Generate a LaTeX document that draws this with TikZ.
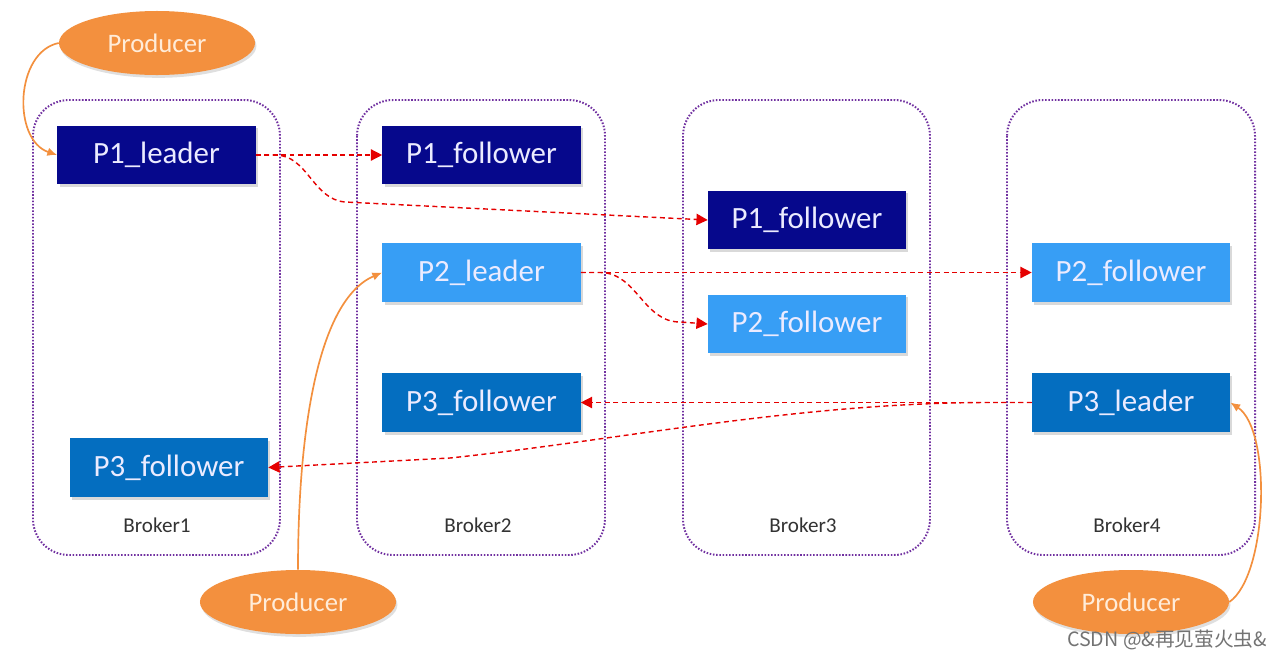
\documentclass[tikz,border=0pt]{standalone}
\usepackage{fontspec}
\setmainfont{Carlito}
\newfontfamily\cjkwm{Noto Sans CJK SC}
\usepackage{tikz}
\usetikzlibrary{arrows.meta,shapes.geometric,shadows}

\definecolor{navybox}{RGB}{6,8,140}
\definecolor{lightbox}{RGB}{55,158,245}
\definecolor{midbox}{RGB}{4,110,192}
\definecolor{prodorange}{RGB}{243,144,62}
\definecolor{brokerline}{RGB}{112,48,160}

\tikzset{
  part/.style={draw=none,minimum width=4.95cm,minimum height=1.47cm,inner sep=0pt,
    text=white!92!blue,font=\fontsize{22}{26}\selectfont,text depth=0.6ex,
    drop shadow={shadow xshift=1.5pt,shadow yshift=-2pt,opacity=0.3}},
  producer/.style={ellipse,fill=prodorange,minimum width=4.9cm,minimum height=1.6cm,inner sep=0pt,
    text=orange!15!white,font=\fontsize{19}{22}\selectfont,
    drop shadow={shadow xshift=1pt,shadow yshift=-2pt,opacity=0.25}},
  brokerbox/.style={draw=brokerline,line width=1.4pt,dash pattern=on 1.1pt off 1.2pt,rounded corners=0.9cm},
  brokerlabel/.style={text=black!80,font=\fontsize{15}{18}\selectfont},
  repl/.style={red!90!black,line width=1pt,dash pattern=on 3.5pt off 2.5pt,-{Triangle[length=8pt,width=8pt]}},
  feed/.style={prodorange,line width=1.2pt,-{Latex[length=7pt,width=6pt]}}
}

\begin{document}
\begin{tikzpicture}[x=0.025cm,y=-0.025cm]
\useasboundingbox (0,0) rectangle (1282,659);

%brokers
\draw[brokerbox] (33,100) rectangle (280,555);
\draw[brokerbox] (357,100) rectangle (605,555);
\draw[brokerbox] (683,100) rectangle (930,555);
\draw[brokerbox] (1007,100) rectangle (1255,555);
\node[brokerlabel] (b1) at (157,525) {Broker1};
\node[brokerlabel] (b2) at (478,525) {Broker2};
\node[brokerlabel] (b3) at (803,525) {Broker3};
\node[brokerlabel] (b4) at (1127,525) {Broker4};

%partitions
\node[part,fill=navybox] (p1l) at (156.5,155) {P1\_leader};
\node[part,fill=navybox] (p1fb) at (481.5,155) {P1\_follower};
\node[part,fill=navybox] (p1fc) at (807,220) {P1\_follower};
\node[part,fill=lightbox] (p2l) at (481.5,272.5) {P2\_leader};
\node[part,fill=lightbox] (p2fc) at (807,324) {P2\_follower};
\node[part,fill=lightbox] (p2fd) at (1131,272.5) {P2\_follower};
\node[part,fill=midbox] (p3fb) at (481.5,402.5) {P3\_follower};
\node[part,fill=midbox] (p3l) at (1131,402.5) {P3\_leader};
\node[part,fill=midbox] (p3fa) at (169,467.5) {P3\_follower};

%producers
\node[producer] (pra) at (157,43) {Producer};
\node[producer] (prb) at (298,602) {Producer};
\node[producer] (prc) at (1131,602) {Producer};

%replication
\draw[repl] (p1l.east) -- (p1fb.west);
\draw[repl] (p1l.east) -- (275,155) to[out=0,in=175] (345,202) -- (p1fc.west);
\draw[repl] (p2l.east) -- (p2fd.west);
\draw[repl] (p2l.east) -- (600,272.5) to[out=0,in=180] (680,322) -- (p2fc.west);
\draw[repl] (p3l.west) -- (p3fb.east);
\draw[repl] (p3l.west) -- (990,402.5) .. controls (800,402.5) and (620,440) .. (450,458) -- (p3fa.east);

%writes
\draw[feed] (pra.west) .. controls (15,52) and (12,140) .. (p1l.west);
\draw[feed] (prb.north) .. controls (298,430) and (318,300) .. (p2l.west);
\draw[feed] (prc.east) .. controls (1268,575) and (1272,430) .. (p3l.east);

\node[text=black!55,font=\cjkwm\fontsize{14}{16}\selectfont] (wm) at (1167,640) {CSDN @\&再见萤火虫\&};
\end{tikzpicture}
\end{document}
